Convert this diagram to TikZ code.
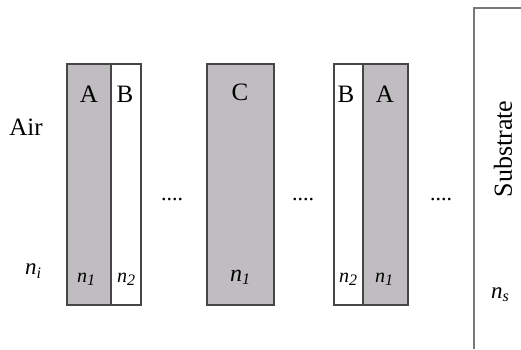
\documentclass[tikz,border=0pt]{standalone}
\usepackage{fontspec}
\setmainfont{Liberation Serif}
\definecolor{layergray}{RGB}{191,189,191}
\definecolor{edgegray}{RGB}{70,70,70}
\definecolor{subgray}{RGB}{120,120,120}
\newcommand{\idx}[2]{\textit{#1}\raisebox{-0.3ex}{\fontsize{16}{16}\selectfont\textit{#2}}}
\begin{document}
\begin{tikzpicture}[x=1pt,y=1pt,
  layer/.style={draw=edgegray,line width=1.2pt,inner sep=0pt},
  darklayer/.style={layer,fill=layergray},
  lightlayer/.style={layer,fill=white},
  lbl/.style={inner sep=0pt,font=\fontsize{25}{25}\selectfont},
  idxlbl/.style={inner sep=0pt,font=\fontsize{23}{23}\selectfont},
  dotlbl/.style={inner sep=0pt,font=\fontsize{22}{22}\selectfont}]
\useasboundingbox (0,0) rectangle (521,349);
% layers
\node[darklayer,minimum width=44pt,minimum height=241pt] (a1) at (89,164.5) {};
\node[lightlayer,minimum width=30pt,minimum height=241pt] (b1) at (126,164.5) {};
\node[darklayer,minimum width=67pt,minimum height=241pt] (c) at (240.5,164.5) {};
\node[lightlayer,minimum width=29pt,minimum height=241pt] (b2) at (348.5,164.5) {};
\node[darklayer,minimum width=45pt,minimum height=241pt] (a2) at (385.5,164.5) {};
% substrate
\coordinate (sb) at (474,0);
\coordinate (st) at (474,341);
\coordinate (sr) at (521,341);
\draw[subgray,line width=1.6pt] (sb) -- (st) -- (sr);
% labels
\node[lbl] (air) at (26,222) {Air};
\node[idxlbl] (ni) at (33,78) {\idx{n}{i}};
\node[lbl] (la1) at (89,255) {A};
\node[lbl] (lb1) at (125,255) {B};
\node[lbl] (lc) at (240,257) {C};
\node[lbl] (lb2) at (346,255) {B};
\node[lbl] (la2) at (385,255) {A};
\node[idxlbl,font=\fontsize{20}{20}\selectfont] (na1) at (86,70) {\idx{n}{1}};
\node[idxlbl,font=\fontsize{20}{20}\selectfont] (nb1) at (126,70) {\idx{n}{2}};
\node[idxlbl,font=\fontsize{24}{24}\selectfont] (nc) at (240,72) {\idx{n}{1}};
\node[idxlbl,font=\fontsize{20}{20}\selectfont] (nb2) at (348,70) {\idx{n}{2}};
\node[idxlbl,font=\fontsize{20}{20}\selectfont] (na2) at (384,70) {\idx{n}{1}};
\node[dotlbl] (d1) at (172,149) {....};
\node[dotlbl] (d2) at (303,149) {....};
\node[dotlbl] (d3) at (441,149) {....};
\node[lbl,rotate=90,font=\fontsize{26}{26}\selectfont] (sub) at (503,200) {Substrate};
\node[idxlbl] (ns) at (500,54) {\idx{n}{s}};
\end{tikzpicture}
\end{document}
